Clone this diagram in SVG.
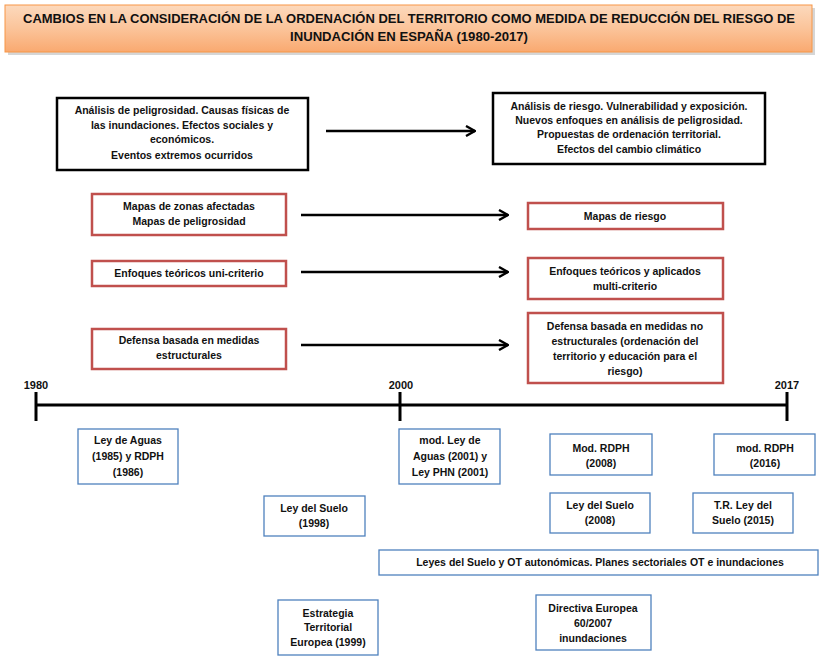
<svg xmlns="http://www.w3.org/2000/svg" width="820" height="656" viewBox="0 0 820 656">
<defs>
<linearGradient id="tg" x1="0" y1="0" x2="0" y2="1">
<stop offset="0" stop-color="#fcd9bd"/>
<stop offset="0.5" stop-color="#fbc49a"/>
<stop offset="1" stop-color="#f9a970"/>
</linearGradient>
<marker id="ah" viewBox="0 0 12 12" refX="11" refY="6" markerWidth="12" markerHeight="12" markerUnits="userSpaceOnUse" orient="auto">
<path d="M2,1 L11,6 L2,11" fill="none" stroke="#000" stroke-width="2.4"/>
</marker>
<style>
text{font-family:"Liberation Sans",Arial,sans-serif;font-weight:bold;font-size:10.5px;fill:#111;text-anchor:middle}
.t{font-size:12px}
.y{font-size:11px}
.blk{fill:#fff;stroke:#000;stroke-width:2.5}
.red{fill:#fff;stroke:#c0504d;stroke-width:2.5}
.blu{fill:#fff;stroke:#4f81bd;stroke-width:1.3}
.arr{stroke:#000;stroke-width:2.5;fill:none;marker-end:url(#ah)}
.tl{stroke:#000;stroke-width:3;fill:none}
</style>
</defs>
<rect width="820" height="656" fill="#fff"/>
<g id="title">
<rect x="8" y="8" width="807" height="47" fill="#bbb" opacity="0.6"/>
<rect x="5" y="5" width="807" height="47" fill="url(#tg)" stroke="#f79646" stroke-width="1"/>
<text class="t" x="409" y="23" textLength="772" lengthAdjust="spacingAndGlyphs">CAMBIOS EN LA CONSIDERACIÓN DE LA ORDENACIÓN DEL TERRITORIO COMO MEDIDA DE REDUCCIÓN  DEL RIESGO DE</text>
<text class="t" x="409" y="41" textLength="238" lengthAdjust="spacingAndGlyphs">INUNDACIÓN EN ESPAÑA (1980-2017)</text>
</g>
<g id="n-analisis-pel">
<rect class="blk" x="57" y="98" width="251" height="72"/>
<text x="182" y="114">Análisis de peligrosidad.  Causas físicas de</text>
<text x="182" y="129">las inundaciones.  Efectos sociales  y</text>
<text x="182" y="143">económicos.</text>
<text x="182" y="159">Eventos extremos ocurridos</text>
</g>
<g id="n-analisis-riesgo">
<rect class="blk" x="493" y="93" width="272" height="71"/>
<text x="629" y="110">Análisis de riesgo. Vulnerabilidad y exposición.</text>
<text x="629" y="124">Nuevos enfoques en análisis  de peligrosidad.</text>
<text x="629" y="138">Propuestas de ordenación territorial.</text>
<text x="629" y="153">Efectos del cambio  climático</text>
</g>
<g id="n-mapas-zonas">
<rect class="red" x="92" y="194" width="194" height="41"/>
<text x="189" y="210">Mapas  de zonas afectadas</text>
<text x="189" y="225">Mapas  de peligrosidad</text>
</g>
<g id="n-mapas-riesgo">
<rect class="red" x="528" y="203" width="195" height="26"/>
<text x="625" y="220">Mapas  de riesgo</text>
</g>
<g id="n-uni">
<rect class="red" x="92" y="261" width="194" height="25"/>
<text x="189" y="277">Enfoques teóricos uni-criterio</text>
</g>
<g id="n-multi">
<rect class="red" x="528" y="258" width="195" height="41"/>
<text x="625" y="275">Enfoques  teóricos y aplicados</text>
<text x="625" y="290">multi-criterio</text>
</g>
<g id="n-estructurales">
<rect class="red" x="92" y="329" width="194" height="40"/>
<text x="189" y="344">Defensa basada  en medidas</text>
<text x="189" y="359">estructurales</text>
</g>
<g id="n-no-estructurales">
<rect class="red" x="528" y="313" width="195" height="70"/>
<text x="625" y="330">Defensa basada  en medidas no</text>
<text x="625" y="345">estructurales (ordenación  del</text>
<text x="625" y="360">territorio y educación  para el</text>
<text x="625" y="375">riesgo)</text>
</g>
<g id="connectors">
<line class="arr" x1="326" y1="131" x2="475" y2="131"/>
<line class="arr" x1="301" y1="215" x2="508" y2="215"/>
<line class="arr" x1="301" y1="272" x2="508" y2="272"/>
<line class="arr" x1="301" y1="345" x2="508" y2="345"/>
</g>
<g id="timeline">
<line class="tl" x1="36" y1="405" x2="787" y2="405"/>
<line class="tl" x1="36" y1="392" x2="36" y2="421"/>
<line class="tl" x1="400" y1="392" x2="400" y2="421"/>
<line class="tl" x1="787" y1="392" x2="787" y2="421"/>
<text class="y" x="36" y="389">1980</text>
<text class="y" x="401" y="389">2000</text>
<text class="y" x="787" y="389">2017</text>
</g>
<g id="n-ley-aguas">
<rect class="blu" x="78" y="429" width="100" height="55"/>
<text x="128" y="444">Ley de Aguas</text>
<text x="128" y="460">(1985) y RDPH</text>
<text x="128" y="476">(1986)</text>
</g>
<g id="n-mod-ley-aguas">
<rect class="blu" x="399" y="429" width="101" height="55"/>
<text x="450" y="444">mod. Ley de</text>
<text x="450" y="460">Aguas (2001) y</text>
<text x="450" y="476">Ley PHN (2001)</text>
</g>
<g id="n-mod-rdph-2008">
<rect class="blu" x="550" y="434" width="102" height="41"/>
<text x="601" y="452">Mod. RDPH</text>
<text x="601" y="467">(2008)</text>
</g>
<g id="n-mod-rdph-2016">
<rect class="blu" x="714" y="434" width="101" height="41"/>
<text x="765" y="452">mod. RDPH</text>
<text x="765" y="467">(2016)</text>
</g>
<g id="n-ley-suelo-1998">
<rect class="blu" x="264" y="496" width="101" height="40"/>
<text x="314" y="512">Ley del Suelo</text>
<text x="314" y="527">(1998)</text>
</g>
<g id="n-ley-suelo-2008">
<rect class="blu" x="550" y="493" width="100" height="40"/>
<text x="600" y="509">Ley del Suelo</text>
<text x="600" y="524">(2008)</text>
</g>
<g id="n-tr-ley-suelo">
<rect class="blu" x="693" y="493" width="100" height="40"/>
<text x="743" y="509">T.R.  Ley del</text>
<text x="743" y="524">Suelo (2015)</text>
</g>
<g id="n-leyes-autonomicas">
<rect class="blu" x="379" y="550" width="439" height="25"/>
<text x="600" y="566">Leyes del Suelo y OT autonómicas.  Planes sectoriales  OT e inundaciones</text>
</g>
<g id="n-estrategia">
<rect class="blu" x="278" y="600" width="100" height="55"/>
<text x="328" y="617">Estrategia</text>
<text x="328" y="631">Territorial</text>
<text x="328" y="646">Europea (1999)</text>
</g>
<g id="n-directiva">
<rect class="blu" x="536" y="595" width="115" height="55"/>
<text x="593" y="612">Directiva Europea</text>
<text x="593" y="627">60/2007</text>
<text x="593" y="642">inundaciones</text>
</g>
</svg>
